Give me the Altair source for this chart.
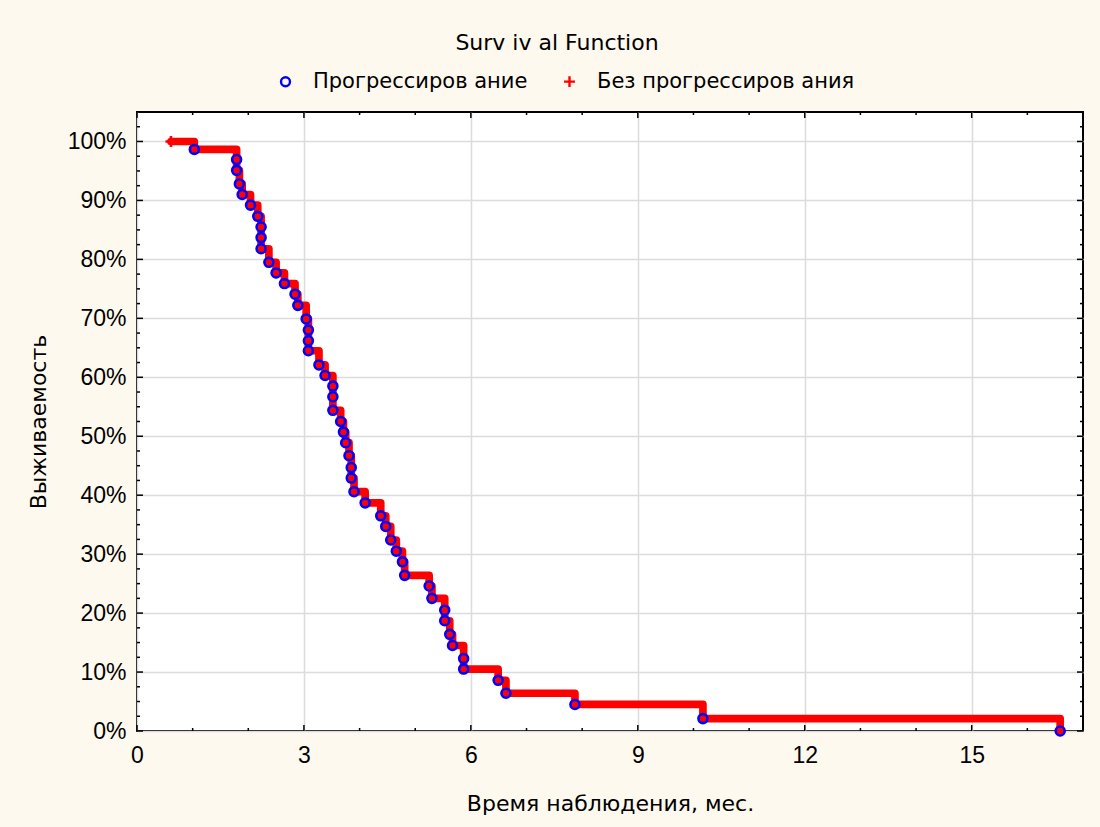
import altair as alt
import pandas as pd

# Event (progression) times, months, and survival after each event, %
event_times = [1.03, 1.79, 1.79, 1.84, 1.89, 2.04, 2.17, 2.23, 2.23, 2.23,
               2.37, 2.50, 2.65, 2.84, 2.89, 3.04, 3.08, 3.08, 3.08, 3.27,
               3.38, 3.52, 3.52, 3.52, 3.66, 3.71, 3.75, 3.81, 3.85, 3.85,
               3.90, 4.10, 4.38, 4.47, 4.56, 4.66, 4.77, 4.81, 5.25, 5.30,
               5.53, 5.53, 5.62, 5.67, 5.87, 5.87, 6.49, 6.63, 7.87, 10.17,
               16.59]
event_surv = [98.65, 96.95, 95.1, 92.8, 91.0, 89.2, 87.3, 85.5, 83.7, 81.8,
              79.5, 77.7, 75.9, 74.1, 72.2, 69.9, 68.0, 66.2, 64.5, 62.1,
              60.3, 58.5, 56.7, 54.4, 52.5, 50.7, 48.9, 46.7, 44.7, 42.9,
              40.6, 38.7, 36.5, 34.7, 32.4, 30.5, 28.7, 26.4, 24.6, 22.5,
              20.5, 18.7, 16.4, 14.5, 12.3, 10.5, 8.6, 6.4, 4.5, 2.1,
              0.0]
# Censored observation(s)
cens_times = [0.61]
cens_surv = [100.0]

series_names = ["Прогрессиров ание", "Без прогрессиров ания"]
title_text = "Surv iv al Function"
x_title = "Время наблюдения, мес."
y_title = "Выживаемость"

x_major = [0, 3, 6, 9, 12, 15]
x_minor = [1, 2, 4, 5, 7, 8, 10, 11, 13, 14, 16]
y_major = [0, 10, 20, 30, 40, 50, 60, 70, 80, 90, 100]
y_minor = [2.5, 5, 7.5, 12.5, 15, 17.5, 22.5, 25, 27.5, 32.5, 35, 37.5,
           42.5, 45, 47.5, 52.5, 55, 57.5, 62.5, 65, 67.5, 72.5, 75, 77.5,
           82.5, 85, 87.5, 92.5, 95, 97.5, 102.5]

W, H = 946, 619
FONT = "DejaVu Sans"
NUMFONT = "Liberation Sans"

xs = alt.Scale(domain=[0, 17], nice=False, zero=False)
ys = alt.Scale(domain=[0, 105], nice=False)

# step line data
line_df = pd.DataFrame({
    "t": cens_times + event_times,
    "s": cens_surv + event_surv,
    "o": list(range(len(cens_times) + len(event_times))),
})

pts_df = pd.DataFrame({
    "t": event_times + cens_times,
    "s": event_surv + cens_surv,
    "series": [series_names[0]] * len(event_times) + [series_names[1]] * len(cens_times),
})
plus_df = pd.DataFrame({"t": event_times, "s": event_surv})

x_axis = alt.Axis(values=x_major, grid=True, gridColor="#DCDCDC", gridWidth=1.5,
                  ticks=False, domain=False, labelFont=NUMFONT, labelFontSize=23,
                  labelColor="black", labelPadding=13, labelFlush=False,
                  title=x_title, titleFont=FONT, titleFontSize=22,
                  titleFontWeight="normal", titleColor="black", titlePadding=26)
y_axis = alt.Axis(values=y_major, grid=True, gridColor="#DCDCDC", gridWidth=1.5,
                  ticks=False, domain=False, labelFont=NUMFONT, labelFontSize=23,
                  labelColor="black", labelPadding=11, labelFlush=False,
                  labelExpr="datum.value + '%'", title=y_title,
                  titleFont=FONT, titleFontSize=22, titleFontWeight="normal",
                  titleColor="black", titlePadding=17)

def X(f):
    return alt.X(f, scale=xs, axis=x_axis)

def Y(f):
    return alt.Y(f, scale=ys, axis=y_axis)

line = alt.Chart(line_df).mark_line(
    interpolate="step-after", color="#FF0000", strokeWidth=7.7,
    strokeJoin="round", strokeCap="round"
).encode(
    x=X("t:Q"),
    y=Y("s:Q"),
    order="o:Q",
)

PLUS = "M-1,0L1,0M0,-1L0,1"

pluses = alt.Chart(plus_df).mark_point(
    shape=PLUS, color="#FF0000", size=110, strokeWidth=1.5, filled=False, opacity=1
).encode(
    x=X("t:Q"),
    y=Y("s:Q"),
)

points = alt.Chart(pts_df).mark_point(filled=False, strokeWidth=2.6, opacity=1).encode(
    x=X("t:Q"),
    y=Y("s:Q"),
    color=alt.Color("series:N", scale=alt.Scale(domain=series_names, range=["#0000FF", "#FF0000"]),
                    legend=alt.Legend(title=None, orient="none", direction="horizontal",
                                      legendX=138, legendY=-41, labelFont=FONT,
                                      labelFontSize=21, labelColor="black", labelLimit=0,
                                      symbolSize=60, symbolStrokeWidth=2.4,
                                      labelOffset=17, columnPadding=31, padding=0)),
    shape=alt.Shape("series:N", scale=alt.Scale(domain=series_names, range=["circle", PLUS])),
    size=alt.Size("series:N", scale=alt.Scale(domain=series_names, range=[80, 120]), legend=None),
)

ytick_major = pd.DataFrame({"v": y_major})
ytick_minor = pd.DataFrame({"v": y_minor})
xtick_major = pd.DataFrame({"v": x_major})
xtick_minor = pd.DataFrame({"v": x_minor})

def yticks(df, ln):
    base = alt.Chart(df).mark_rule(color="black", strokeWidth=1.5)
    left = base.encode(y=Y("v:Q"), x=alt.value(0), x2=alt.value(ln))
    right = base.encode(y=Y("v:Q"), x=alt.value(W - ln), x2=alt.value(W))
    return [left, right]

def xticks(df, ln):
    base = alt.Chart(df).mark_rule(color="black", strokeWidth=1.5)
    bottom = base.encode(x=X("v:Q"), y=alt.value(H - ln), y2=alt.value(H))
    top = base.encode(x=X("v:Q"), y=alt.value(0), y2=alt.value(ln))
    return [bottom, top]

layers = [line, pluses, points] + yticks(ytick_major, 6) + yticks(ytick_minor, 3) \
    + xticks(xtick_major, 6) + xticks(xtick_minor, 3)

chart = alt.layer(*layers).properties(
    width=W, height=H,
    title=alt.TitleParams(title_text, font=FONT, fontSize=22, fontWeight="normal",
                          color="black", anchor="middle", dx=-53, offset=16),
    background="#FDF9EE",
    autosize=alt.AutoSizeParams(type="none"),
    padding={"left": 137, "top": 112, "right": 17, "bottom": 96},
).configure_view(
    fill="white", stroke="black", strokeWidth=2
)

chart.save("out.html", embed_options={"renderer": "svg", "actions": False})
